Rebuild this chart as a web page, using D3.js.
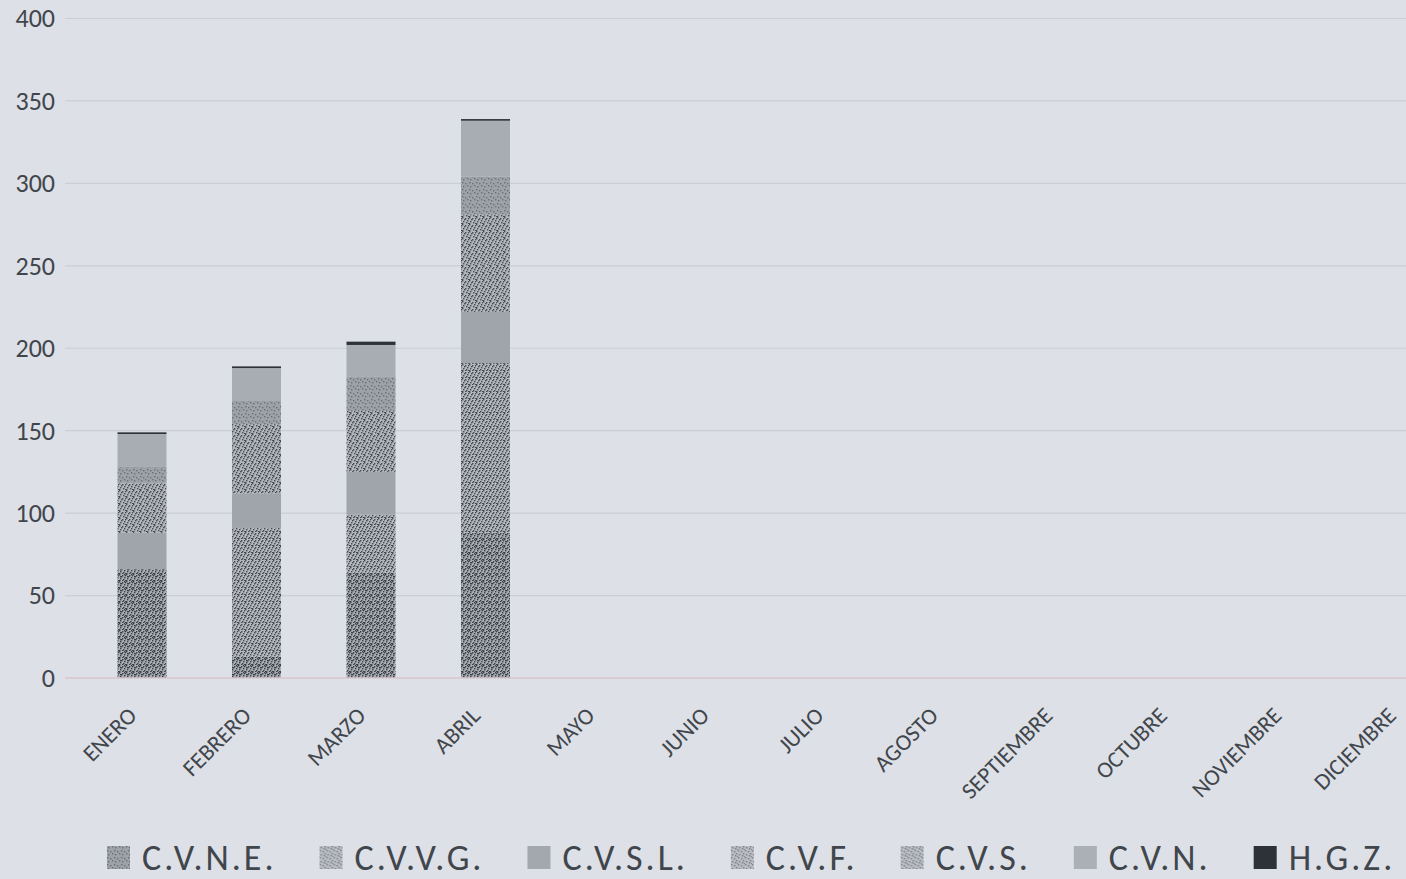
<!DOCTYPE html>
<html>
<head>
<meta charset="utf-8">
<script src="https://cdn.jsdelivr.net/npm/d3@7/dist/d3.min.js"></script>
<style>
  html, body { margin: 0; padding: 0; background: #dde0e6; }
  svg { display: block; }
  text { font-family: Carlito, Lato, "Noto Sans", sans-serif; fill: #41464c; }
</style>
</head>
<body>
<svg id="chart" width="1406" height="879"></svg>
<script>
// ---- data ----
const months = ["ENERO","FEBRERO","MARZO","ABRIL","MAYO","JUNIO","JULIO","AGOSTO","SEPTIEMBRE","OCTUBRE","NOVIEMBRE","DICIEMBRE"];
const seriesNames = ["C.V.N.E.","C.V.V.G.","C.V.S.L.","C.V.F.","C.V.S.","C.V.N.","H.G.Z."];
const cvne = [66, 13, 64, 88, 0, 0, 0, 0, 0, 0, 0, 0];
const cvvg = [0, 78, 35, 103, 0, 0, 0, 0, 0, 0, 0, 0];
const cvsl = [22, 21, 26, 31, 0, 0, 0, 0, 0, 0, 0, 0];
const cvf  = [30, 42, 37, 59, 0, 0, 0, 0, 0, 0, 0, 0];
const cvs  = [10, 14, 21, 23, 0, 0, 0, 0, 0, 0, 0, 0];
const cvn  = [20, 20, 19, 34, 0, 0, 0, 0, 0, 0, 0, 0];
const hgz  = [1, 1, 2, 1, 0, 0, 0, 0, 0, 0, 0, 0];
const yTicks = [0, 50, 100, 150, 200, 250, 300, 350, 400];

const seriesValues = [cvne, cvvg, cvsl, cvf, cvs, cvn, hgz];
const rows = months.map((m, i) => {
  const r = { month: m };
  seriesNames.forEach((s, k) => r[s] = seriesValues[k][i]);
  return r;
});

const svg = d3.select("#chart");
const FONT = "Carlito, Lato, 'Noto Sans', sans-serif";

// ---- textures (style only) ----
const defs = svg.append("defs");
function stipple(id, base, dot, density) {
  const p = defs.append("pattern").attr("id", id).attr("patternUnits", "userSpaceOnUse")
    .attr("width", 7).attr("height", 7);
  p.append("rect").attr("width", 7).attr("height", 7).attr("fill", base);
  const pts = [[0,0],[3,1],[5,3],[1,4],[4,5],[6,6],[2,2],[6,1],[0,6],[3,6],[5,0],[1,2]];
  pts.slice(0, density).forEach(([x, y]) =>
    p.append("rect").attr("x", x).attr("y", y).attr("width", 1.4).attr("height", 1.4).attr("fill", dot));
}
stipple("pCVNE", "#a9aeb5", "#3b4046", 12);
stipple("pCVVG", "#b4b8be", "#454a50", 10);
stipple("pCVF", "#b2b6bc", "#474c52", 9);
stipple("pCVS", "#9da2a9", "#6b7077", 4);
stipple("pLegVG", "#b9bdc3", "#7a7f86", 6);

const fills = ["url(#pCVNE)", "url(#pCVVG)", "#a0a5ac", "url(#pCVF)", "url(#pCVS)", "#a8adb4", "#2d3238"];
const legendFills = ["url(#pCVS)", "url(#pLegVG)", "#a3a8af", "url(#pLegVG)", "url(#pLegVG)", "#abb0b6", "#2d3238"];

// ---- scales ----
const step = 114.5;
const y = d3.scaleLinear().domain([0, 400]).range([678, 18.5]);
const x = d3.scaleBand().domain(months).range([142 - step / 2, 142 - step / 2 + 12 * step])
  .paddingInner(0.572).paddingOuter(0.286);

// gridlines
const grid = svg.append("g").attr("class", "grid");
grid.selectAll("line").data(yTicks.filter(t => t > 0)).join("line")
  .attr("x1", 65).attr("x2", 1406)
  .attr("y1", d => y(d)).attr("y2", d => y(d))
  .attr("stroke", "#cbced5").attr("stroke-width", 1.2);

// y axis labels
const yAxis = d3.axisLeft(y).tickValues(yTicks).tickSize(0).tickPadding(0);
const yG = svg.append("g").attr("transform", "translate(55,0)").call(yAxis);
yG.select(".domain").remove();
yG.selectAll("text").attr("font-size", 26).style("fill", "#41464c").style("font-family", FONT);

// bars
const stack = d3.stack().keys(seriesNames)(rows);
svg.append("g").selectAll("g").data(stack).join("g")
  .attr("fill", (d, i) => fills[i])
  .selectAll("rect").data(d => d).join("rect")
  .attr("x", d => x(d.data.month))
  .attr("width", x.bandwidth())
  .attr("y", d => y(d[1]))
  .attr("height", d => Math.max(0, y(d[0]) - y(d[1])));

// baseline
svg.append("line").attr("x1", 65).attr("x2", 1406).attr("y1", y(0)).attr("y2", y(0))
  .attr("stroke", "#d8c6cc").attr("stroke-width", 1.5);

// x axis labels
const xAxis = d3.axisBottom(x).tickSize(0).tickPadding(0);
const xG = svg.append("g").attr("transform", "translate(0,717)").call(xAxis);
xG.select(".domain").remove();
xG.selectAll("text")
  .attr("font-size", 23).attr("y", 0).attr("dy", 0)
  .attr("text-anchor", "end")
  .attr("transform", "translate(-4,0) rotate(-45)")
  .style("fill", "#41464c").style("font-family", FONT);

// legend
const leg = svg.append("g").attr("transform", "translate(0,857)");
let cx = 107;
seriesNames.forEach((name, i) => {
  const g = leg.append("g").attr("transform", `translate(${cx},0)`);
  g.append("rect").attr("x", 0).attr("y", -11).attr("width", 23).attr("height", 23).attr("fill", legendFills[i]);
  const t = g.append("text").attr("x", 35).attr("y", 0).attr("dy", "0.36em")
    .attr("font-size", 36).attr("letter-spacing", 3).text(name);
  const w = t.node().getComputedTextLength();
  cx += 35 + w + 43;
});
</script>
</body>
</html>
